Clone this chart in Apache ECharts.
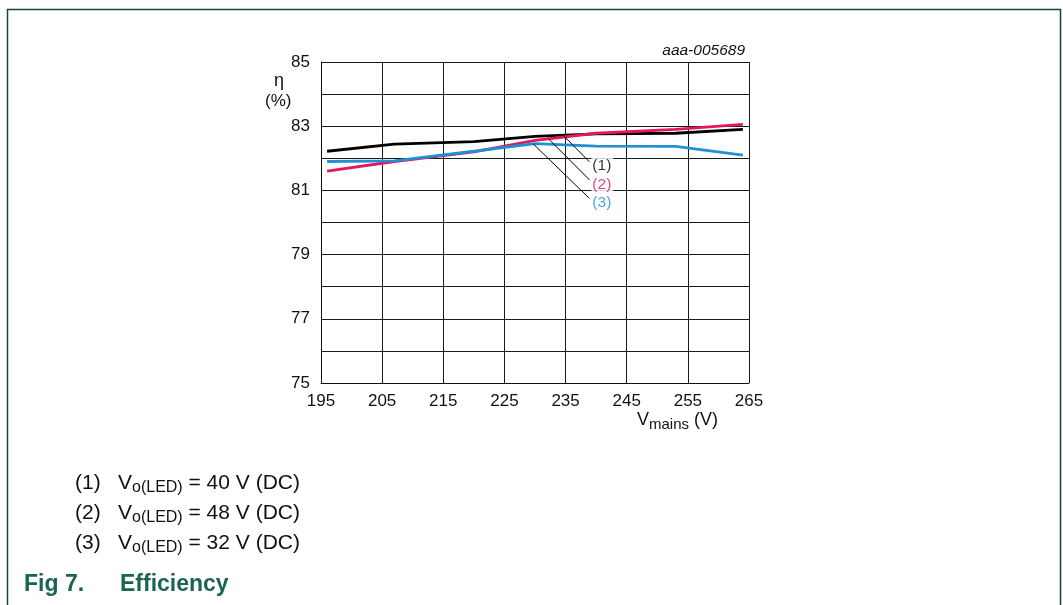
<!DOCTYPE html>
<html>
<head>
<meta charset="utf-8">
<title>Efficiency</title>
<script src="https://cdn.jsdelivr.net/npm/echarts@6/dist/echarts.min.js"></script>
<style>
  html, body { margin: 0; padding: 0; background: #ffffff; }
  #chart { width: 1063px; height: 605px; }
</style>
</head>
<body>
<div id="chart"></div>
<script>
// Mains voltage (V) at the measured points
const vMains = [196, 207, 220, 230, 240, 253, 264];

// Efficiency (%) for each LED output voltage
const eff40V = [82.22, 82.44, 82.52, 82.68, 82.76, 82.78, 82.90];
const eff48V = [81.60, 81.90, 82.20, 82.56, 82.78, 82.90, 83.06];
const eff32V = [81.90, 81.92, 82.22, 82.46, 82.38, 82.37, 82.10];

// Axis ranges and tick labels
const xTicks = [195, 205, 215, 225, 235, 245, 255, 265];
const yTicks = [75, 77, 79, 81, 83, 85];

// Curve callouts: leader line start (on curve), end, and tag position
const calloutTags = ['(1)', '(2)', '(3)'];
const calloutStart = [[234.6, 82.72], [232.2, 82.61], [229.7, 82.45]];
const calloutEnd = [[238.9, 81.89], [238.9, 81.33], [238.9, 80.75]];
const calloutTagPos = [[239.3, 81.74], [239.3, 81.17], [239.3, 80.60]];

// Legend rows below the chart
const legendTags = ['(1)', '(2)', '(3)'];
const legendVolts = ['40', '48', '32'];

const COL_40 = '#000000';
const COL_48 = '#e5175c';
const COL_32 = '#2190d2';
const CURVE_COLORS = [COL_40, COL_48, COL_32];
const FONT = '"Liberation Sans", Arial, Helvetica, sans-serif';

const chart = echarts.init(document.getElementById('chart'), null, { renderer: 'canvas' });

const pairs = (ys) => vMains.map((v, i) => [v, ys[i]]);

const lineSeries = (name, ys, color) => ({
  name,
  type: 'line',
  data: pairs(ys),
  showSymbol: false,
  symbol: 'none',
  smooth: false,
  lineStyle: { color, width: 2.8 },
  z: 3
});

// One rich-text row per legend entry so tag and formula share a baseline
const legendGraphics = legendTags.map((tag, i) => ({
  type: 'text', left: 75, top: 482 + i * 30 - 12,
  style: {
    text: '{t|' + tag + '}{v|V}{s|o(LED)}{v| = ' + legendVolts[i] + ' V (DC)}',
    rich: {
      t: { fontSize: 21, fontFamily: FONT, fill: '#111', lineHeight: 24, width: 43 },
      v: { fontSize: 21, fontFamily: FONT, fill: '#111', lineHeight: 24 },
      s: { fontSize: 16, fontFamily: FONT, fill: '#111', lineHeight: 24, padding: [10, 0, 0, 0] }
    }
  }
}));

const option = {
  backgroundColor: '#ffffff',
  animation: false,
  grid: { left: 321, right: 314, top: 62, bottom: 222, containLabel: false },
  xAxis: {
    type: 'value',
    min: xTicks[0],
    max: xTicks[xTicks.length - 1],
    interval: 10,
    axisLine: { show: true, lineStyle: { color: '#111', width: 1 } },
    axisTick: { show: false },
    axisLabel: { color: '#111', fontSize: 17, fontFamily: FONT, margin: 10,
      formatter: (v) => (xTicks.includes(v) ? String(v) : '') },
    splitLine: { show: true, lineStyle: { color: '#1a1a1a', width: 1 } }
  },
  yAxis: {
    type: 'value',
    min: yTicks[0],
    max: yTicks[yTicks.length - 1],
    interval: 1,
    axisLine: { show: true, lineStyle: { color: '#111', width: 1 } },
    axisTick: { show: false },
    axisLabel: { color: '#111', fontSize: 17, fontFamily: FONT, margin: 11,
      formatter: (v) => (yTicks.includes(v) ? String(v) : '') },
    splitLine: { show: true, lineStyle: { color: '#1a1a1a', width: 1 } }
  },
  series: [
    lineSeries('Vo(LED) = 40 V (DC)', eff40V, COL_40),
    lineSeries('Vo(LED) = 48 V (DC)', eff48V, COL_48),
    lineSeries('Vo(LED) = 32 V (DC)', eff32V, COL_32),
    {
      name: 'leaders',
      type: 'lines',
      coordinateSystem: 'cartesian2d',
      data: calloutStart.map((s, i) => ({ coords: [s, calloutEnd[i]] })),
      lineStyle: { color: '#000', width: 1, opacity: 1 },
      silent: true,
      z: 4
    },
    {
      name: 'tags',
      type: 'scatter',
      symbolSize: 1,
      itemStyle: { color: 'rgba(0,0,0,0)' },
      data: calloutTagPos.map((p, i) => ({ value: p, label: { color: CURVE_COLORS[i] } })),
      label: {
        show: true,
        position: [0, 0],
        align: 'left',
        verticalAlign: 'middle',
        fontSize: 15.5,
        fontFamily: FONT,
        backgroundColor: '#ffffff',
        padding: [1, 2, 1, 1],
        formatter: (p) => calloutTags[p.dataIndex]
      },
      z: 5
    }
  ],
  graphic: [
    // page frame
    {
      type: 'polyline',
      shape: { points: [[7.5, 610], [7.5, 9.5], [1060.5, 9.5], [1060.5, 610]] },
      style: { stroke: '#0c4b3b', lineWidth: 1.5, fill: null }
    },
    {
      type: 'text', right: 1063 - 745, top: 43,
      style: { text: 'aaa-005689', font: 'italic 15.5px ' + FONT, fill: '#111', textAlign: 'right' }
    },
    {
      type: 'text', left: 274, top: 72,
      style: { text: 'η', font: '18px ' + FONT, fill: '#111' }
    },
    {
      type: 'text', left: 265, top: 93,
      style: { text: '(%)', font: '17px ' + FONT, fill: '#111' }
    },
    {
      type: 'text', right: 1063 - 718, top: 409,
      style: {
        text: '{v|V}{s|mains}{v| (V)}',
        rich: {
          v: { fontSize: 18, fontFamily: FONT, fill: '#111', lineHeight: 21 },
          s: { fontSize: 15, fontFamily: FONT, fill: '#111', lineHeight: 21, padding: [8, 0, 0, 0] }
        }
      }
    },
    ...legendGraphics,
    {
      type: 'text', left: 24, top: 573,
      style: { text: 'Fig 7.', font: 'bold 23px ' + FONT, fill: '#1b6450' }
    },
    {
      type: 'text', left: 120, top: 573,
      style: { text: 'Efficiency', font: 'bold 23px ' + FONT, fill: '#1b6450' }
    }
  ]
};

chart.setOption(option);
</script>
</body>
</html>
